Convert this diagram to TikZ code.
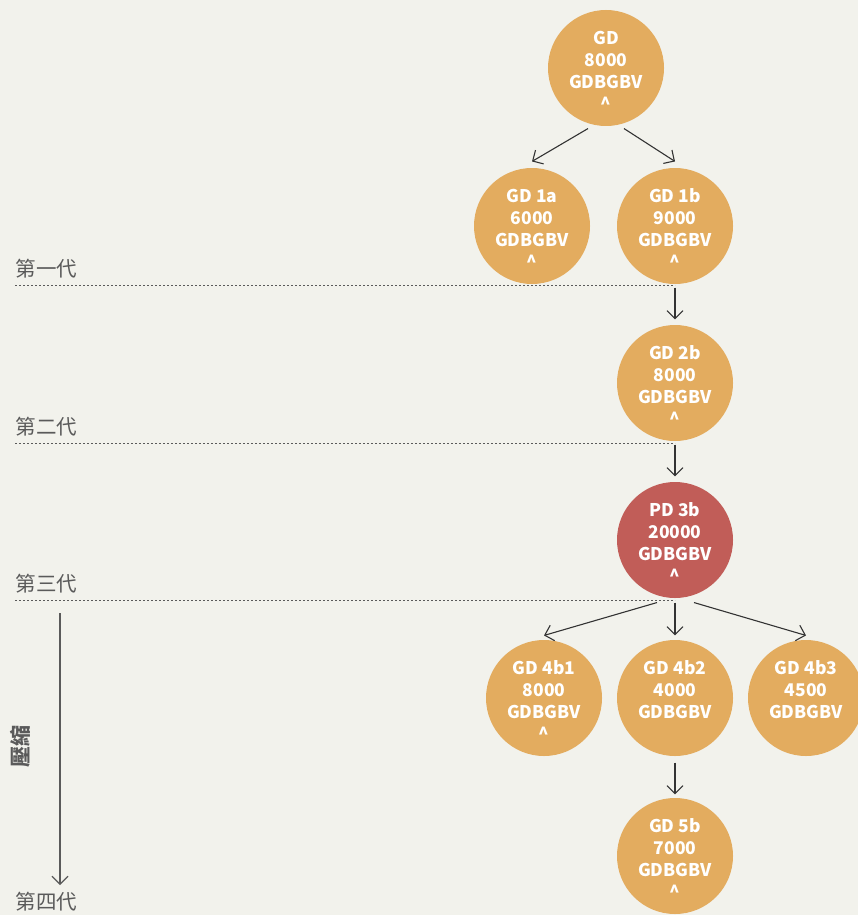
\documentclass[tikz,border=0pt]{standalone}
\usepackage{fontspec}
\setmainfont{Noto Sans CJK TC}
\usepackage{tikz}
\usetikzlibrary{positioning}
\usetikzlibrary{arrows.meta}
\definecolor{bgc}{HTML}{F2F2EC}
\definecolor{gold}{HTML}{E3AC5F}
\definecolor{rust}{HTML}{C15D58}
\definecolor{labgray}{HTML}{5A5A5A}
\definecolor{ink}{HTML}{333333}
\newcommand{\tstr}{\rule{0pt}{19pt}}
\tikzset{
c/.style={
  circle,
  inner sep=0pt,
  minimum size=116pt,
  align=center,
  draw=none,
  fill=gold,
  text=white,
  font=\bfseries\fontsize{17.5}{22}\selectfont
  },
gen/.style={
  anchor=base west,
  inner sep=0pt,
  text=labgray,
  font=\fontsize{20.5}{20.5}\selectfont
  },
genline/.style={
  draw=labgray,
  line width=0.9pt,
  dash pattern=on 2pt off 2pt
  }
}

\begin{document}
\begin{tikzpicture}[x=1pt,y=1pt,->,>={Straight Barb[length=8pt,width=16pt]},line width=1.1pt,draw=ink,on grid]
            \fill[bgc] (0,0) rectangle (858,-915);
            \useasboundingbox (0,0) rectangle (858,-915);
            \node[c]             (gd) at (606,-68) {\tstr GD\\8000\\GDBGBV\\\textasciicircum};
            \node[c]             (b1) [below right=158pt and 69pt of gd] {\tstr GD 1b\\9000\\GDBGBV\\\textasciicircum};
            \node[c]             (a1) [left=143pt of b1] {\tstr GD 1a\\6000\\GDBGBV\\\textasciicircum};
            \node[c]             (b2) [below=157pt of b1] {\tstr GD 2b\\8000\\GDBGBV\\\textasciicircum};
            \node[c,fill=rust]   (pd) [below=157pt of b2] {\tstr PD 3b\\20000\\GDBGBV\\\textasciicircum};
            \node[c]             (c2) [below=158pt of pd] {\tstr GD 4b2\\4000\\GDBGBV\\\mbox{}};
            \node[c]             (c1) [left=131pt of c2] {\tstr GD 4b1\\8000\\GDBGBV\\\textasciicircum};
            \node[c]             (c3) [right=131pt of c2] {\tstr GD 4b3\\4500\\GDBGBV\\\mbox{}};
            \node[c]             (d2) [below=158pt of c2] {\tstr GD 5b\\7000\\GDBGBV\\\textasciicircum};
            % generations
            \node[gen] (g1) at (15,-276) {第一代};
            \node[gen] (g2) at (15,-434) {第二代};
            \node[gen] (g3) at (15,-591) {第三代};
            \node[gen] (g4) at (15,-909) {第四代};
            \draw[genline,-] (15,-285) -- (b1.south |- 0,-285);
            \draw[genline,-] (15,-443) -- (b2.south |- 0,-443);
            \draw[genline,-] (15,-600) -- (pd.south |- 0,-600);
            \coordinate (zs) at (60,-613);
            \coordinate (ze) at (60,-885);
            \draw[labgray] (zs) -- (ze);
            \node[rotate=90,text=labgray,font=\bfseries\fontsize{21}{21}\selectfont] (zip) at (20,-746) {壓縮};
            \path[->]
            ([xshift=-18pt,yshift=-2pt]gd.south) edge ([yshift=6pt]a1.north)
            ([xshift=18pt,yshift=-2pt]gd.south)  edge ([yshift=6pt]b1.north)
            ([yshift=-3pt]b1.south) edge ([yshift=5pt]b2.north)
            ([yshift=-3pt]b2.south) edge ([yshift=5pt]pd.north)
            ([xshift=-18pt,yshift=-4pt]pd.south) edge ([yshift=4pt]c1.north)
            ([yshift=-4pt]pd.south) edge ([yshift=4pt]c2.north)
            ([xshift=19pt,yshift=-4pt]pd.south)  edge ([yshift=4pt]c3.north)
            ([yshift=-6pt]c2.south) edge ([yshift=3pt]d2.north)
            ;
\end{tikzpicture}
\end{document}
